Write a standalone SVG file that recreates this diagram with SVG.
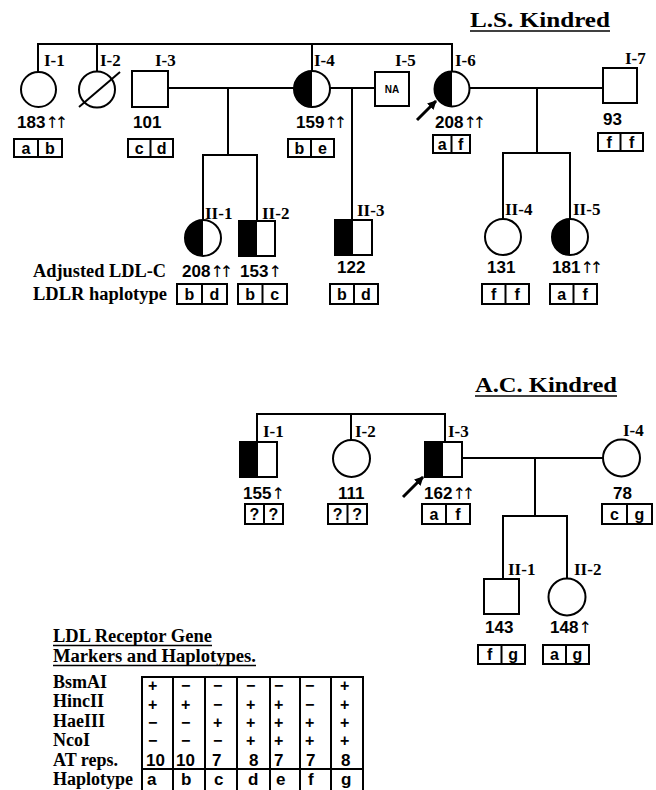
<svg xmlns="http://www.w3.org/2000/svg" width="656" height="790" viewBox="0 0 656 790">
<defs>
<style>
.ln{stroke:#000;stroke-width:2;fill:none}
.sh{stroke:#000;stroke-width:2;fill:#fff}
.bx{stroke:#000;stroke-width:2;fill:#fff}
.blk{fill:#000;stroke:none}
.lab{font-family:"Liberation Serif","Times New Roman",serif;font-weight:bold;font-size:17px;fill:#000}
.ttl{font-family:"Liberation Serif","Times New Roman",serif;font-weight:bold;font-size:20px;fill:#000}
.row{font-family:"Liberation Serif","Times New Roman",serif;font-weight:bold;font-size:18px;fill:#000}
.num{font-family:"Liberation Sans",Arial,sans-serif;font-weight:bold;font-size:17px;fill:#000}
.up{font-family:"DejaVu Sans",sans-serif;font-weight:normal;font-size:16px;letter-spacing:-4px;fill:#000}
.let{font-family:"Liberation Sans",Arial,sans-serif;font-weight:bold;font-size:16px;fill:#000;text-anchor:middle}
.cell{font-family:"Liberation Sans",Arial,sans-serif;font-weight:bold;font-size:16px;fill:#000}
.cn{font-family:"Liberation Sans",Arial,sans-serif;font-weight:bold;font-size:17px;fill:#000}
.na{font-family:"Liberation Sans",Arial,sans-serif;font-weight:bold;font-size:10px;fill:#000;text-anchor:middle}
.pb{stroke:#000;stroke-width:3;fill:none}
.ul{stroke:#000;stroke-width:1.5}
</style>
<marker id="ah" viewBox="0 0 10 10" refX="9" refY="5" markerWidth="9" markerHeight="9" markerUnits="userSpaceOnUse" orient="auto">
<path d="M0,0 L10,5 L0,10 z" fill="#000"/>
</marker>
</defs>
<rect width="656" height="790" fill="#fff"/>

<!-- Titles -->
<g id="ls-title">
<text class="ttl" x="470" y="27" textLength="140" lengthAdjust="spacingAndGlyphs">L.S. Kindred</text>
<line class="ul" x1="470" y1="31" x2="610" y2="31"/>
</g>
<g id="ac-title">
<text class="ttl" x="475" y="392" textLength="142" lengthAdjust="spacingAndGlyphs">A.C. Kindred</text>
<line class="ul" x1="475" y1="396" x2="617" y2="396"/>
</g>

<!-- Connectors -->
<g id="connectors">
<!-- L.S. -->
<polyline class="ln" points="38,72 38,44 452,44 452,72"/>
<line class="ln" x1="97" y1="44" x2="97" y2="72"/>
<line class="ln" x1="312" y1="44" x2="312" y2="71"/>
<line class="ln" x1="168" y1="88" x2="294" y2="88"/>
<line class="ln" x1="228" y1="88" x2="228" y2="155"/>
<polyline class="ln" points="203,220 203,155 257,155 257,221"/>
<line class="ln" x1="330" y1="88" x2="375" y2="88"/>
<line class="ln" x1="352" y1="88" x2="352" y2="220"/>
<line class="ln" x1="470" y1="88" x2="603" y2="88"/>
<line class="ln" x1="537" y1="88" x2="537" y2="153"/>
<polyline class="ln" points="503,219 503,153 570,153 570,219"/>
<!-- A.C. -->
<polyline class="ln" points="257,442 257,414 445,414 445,442"/>
<line class="ln" x1="351" y1="414" x2="351" y2="440"/>
<line class="ln" x1="462" y1="458" x2="603" y2="458"/>
<line class="ln" x1="535" y1="458" x2="535" y2="516"/>
<polyline class="ln" points="503,579 503,516 567,516 567,579"/>
<!-- proband arrows -->
<line class="pb" x1="417" y1="120" x2="436" y2="101" marker-end="url(#ah)"/>
<line class="pb" x1="403" y1="497" x2="423" y2="477" marker-end="url(#ah)"/>
</g>

<!-- L.S. generation I -->
<g id="ls-I-1">
<circle class="sh" cx="38.5" cy="89.5" r="17.5"/>
<text class="lab" x="44" y="66">I-1</text>
<text class="num" x="17" y="128">183<tspan class="up">↑↑</tspan></text>
<rect class="bx" x="14" y="139" width="48" height="18"/><line class="ln" x1="38" y1="139" x2="38" y2="157"/>
<text class="let" x="26" y="154">a</text><text class="let" x="50" y="154">b</text>
</g>
<g id="ls-I-2">
<circle class="sh" cx="97" cy="89.5" r="18"/>
<line class="ln" x1="79" y1="107" x2="120" y2="72"/>
<text class="lab" x="100" y="66">I-2</text>
</g>
<g id="ls-I-3">
<rect class="sh" x="132" y="71" width="36" height="36"/>
<text class="lab" x="155" y="66">I-3</text>
<text class="num" x="133" y="128">101</text>
<rect class="bx" x="128" y="139" width="45" height="18"/><line class="ln" x1="150.5" y1="139" x2="150.5" y2="157"/>
<text class="let" x="139.25" y="154">c</text><text class="let" x="161.75" y="154">d</text>
</g>
<g id="ls-I-4">
<circle class="sh" cx="312" cy="89" r="18"/>
<path class="blk" d="M312,71 A18,18 0 0 0 312,107 Z"/>
<text class="lab" x="314" y="66">I-4</text>
<text class="num" x="296" y="128">159<tspan class="up">↑↑</tspan></text>
<rect class="bx" x="288" y="139" width="46" height="18"/><line class="ln" x1="311" y1="139" x2="311" y2="157"/>
<text class="let" x="299.5" y="154">b</text><text class="let" x="322.5" y="154">e</text>
</g>
<g id="ls-I-5">
<rect class="sh" x="375" y="72" width="34" height="34"/>
<text class="na" x="392" y="93">NA</text>
<text class="lab" x="395" y="66">I-5</text>
</g>
<g id="ls-I-6">
<circle class="sh" cx="452" cy="89" r="17.5"/>
<path class="blk" d="M452,71.5 A17.5,17.5 0 0 0 452,106.5 Z"/>
<text class="lab" x="455" y="66">I-6</text>
<text class="num" x="435" y="128">208<tspan class="up">↑↑</tspan></text>
<rect class="bx" x="433" y="135" width="37" height="18"/><line class="ln" x1="451.5" y1="135" x2="451.5" y2="153"/>
<text class="let" x="442.25" y="150">a</text><text class="let" x="460.75" y="150">f</text>
</g>
<g id="ls-I-7">
<rect class="sh" x="603" y="68" width="34" height="35"/>
<text class="lab" x="625" y="64">I-7</text>
<text class="num" x="603" y="125">93</text>
<rect class="bx" x="598" y="133" width="45" height="18"/><line class="ln" x1="620.5" y1="133" x2="620.5" y2="151"/>
<text class="let" x="609.25" y="148">f</text><text class="let" x="631.75" y="148">f</text>
</g>

<!-- L.S. generation II -->
<g id="ls-legend">
<text class="row" x="33" y="277" textLength="133" lengthAdjust="spacingAndGlyphs">Adjusted LDL-C</text>
<text class="row" x="33" y="300" textLength="134" lengthAdjust="spacingAndGlyphs">LDLR haplotype</text>
</g>
<g id="ls-II-1">
<circle class="sh" cx="203" cy="238" r="18"/>
<path class="blk" d="M203,220 A18,18 0 0 0 203,256 Z"/>
<text class="lab" x="205" y="219">II-1</text>
<text class="num" x="182" y="277">208<tspan class="up">↑↑</tspan></text>
<rect class="bx" x="177" y="284" width="50" height="20"/><line class="ln" x1="202" y1="284" x2="202" y2="304"/>
<text class="let" x="189.5" y="300">b</text><text class="let" x="214.5" y="300">d</text>
</g>
<g id="ls-II-2">
<rect class="sh" x="239" y="221" width="36" height="35"/>
<rect class="blk" x="239" y="221" width="18" height="35"/>
<text class="lab" x="262" y="219">II-2</text>
<text class="num" x="240" y="277">153<tspan class="up">↑</tspan></text>
<rect class="bx" x="238" y="284" width="49" height="20"/><line class="ln" x1="262.5" y1="284" x2="262.5" y2="304"/>
<text class="let" x="250.25" y="300">b</text><text class="let" x="274.75" y="300">c</text>
</g>
<g id="ls-II-3">
<rect class="sh" x="335" y="220" width="37" height="35"/>
<rect class="blk" x="335" y="220" width="18" height="35"/>
<text class="lab" x="357" y="216">II-3</text>
<text class="num" x="337" y="273">122</text>
<rect class="bx" x="330" y="284" width="48" height="20"/><line class="ln" x1="354" y1="284" x2="354" y2="304"/>
<text class="let" x="342" y="300">b</text><text class="let" x="366" y="300">d</text>
</g>
<g id="ls-II-4">
<circle class="sh" cx="503" cy="237" r="18"/>
<text class="lab" x="505" y="215">II-4</text>
<text class="num" x="487" y="273">131</text>
<rect class="bx" x="482" y="284" width="47" height="20"/><line class="ln" x1="505.5" y1="284" x2="505.5" y2="304"/>
<text class="let" x="493.75" y="300">f</text><text class="let" x="517.25" y="300">f</text>
</g>
<g id="ls-II-5">
<circle class="sh" cx="570" cy="237" r="18"/>
<path class="blk" d="M570,219 A18,18 0 0 0 570,255 Z"/>
<text class="lab" x="573" y="215">II-5</text>
<text class="num" x="552" y="273">181<tspan class="up">↑↑</tspan></text>
<rect class="bx" x="550" y="284" width="47" height="20"/><line class="ln" x1="573.5" y1="284" x2="573.5" y2="304"/>
<text class="let" x="561.75" y="300">a</text><text class="let" x="585.25" y="300">f</text>
</g>

<!-- A.C. generation I -->
<g id="ac-I-1">
<rect class="sh" x="240" y="442" width="37" height="35"/>
<rect class="blk" x="240" y="442" width="18" height="35"/>
<text class="lab" x="263" y="437">I-1</text>
<text class="num" x="243" y="499">155<tspan class="up">↑</tspan></text>
<rect class="bx" x="245" y="504" width="38" height="20"/><line class="ln" x1="264" y1="504" x2="264" y2="524"/>
<text class="let" x="254.5" y="520">?</text><text class="let" x="273.5" y="520">?</text>
</g>
<g id="ac-I-2">
<circle class="sh" cx="351.5" cy="458.5" r="18.5"/>
<text class="lab" x="355" y="437">I-2</text>
<text class="num" x="338" y="499">111</text>
<rect class="bx" x="328" y="504" width="39" height="20"/><line class="ln" x1="347.5" y1="504" x2="347.5" y2="524"/>
<text class="let" x="337.75" y="520">?</text><text class="let" x="357.25" y="520">?</text>
</g>
<g id="ac-I-3">
<rect class="sh" x="425" y="442" width="37" height="35"/>
<rect class="blk" x="425" y="442" width="18" height="35"/>
<text class="lab" x="448" y="437">I-3</text>
<text class="num" x="424" y="499">162<tspan class="up">↑↑</tspan></text>
<rect class="bx" x="422" y="504" width="48" height="20"/><line class="ln" x1="446" y1="504" x2="446" y2="524"/>
<text class="let" x="434" y="520">a</text><text class="let" x="458" y="520">f</text>
</g>
<g id="ac-I-4">
<circle class="sh" cx="621.5" cy="458" r="18.5"/>
<text class="lab" x="623" y="436">I-4</text>
<text class="num" x="613" y="499">78</text>
<rect class="bx" x="602" y="504" width="50" height="20"/><line class="ln" x1="627" y1="504" x2="627" y2="524"/>
<text class="let" x="614.5" y="520">c</text><text class="let" x="639.5" y="520">g</text>
</g>

<!-- A.C. generation II -->
<g id="ac-II-1">
<rect class="sh" x="484" y="579" width="35" height="35"/>
<text class="lab" x="508" y="575">II-1</text>
<text class="num" x="485" y="633">143</text>
<rect class="bx" x="478" y="645" width="47" height="19"/><line class="ln" x1="501.5" y1="645" x2="501.5" y2="664"/>
<text class="let" x="489.75" y="660">f</text><text class="let" x="513.25" y="660">g</text>
</g>
<g id="ac-II-2">
<circle class="sh" cx="567" cy="597" r="18.5"/>
<text class="lab" x="574" y="575">II-2</text>
<text class="num" x="550" y="633">148<tspan class="up">↑</tspan></text>
<rect class="bx" x="543" y="645" width="46" height="19"/><line class="ln" x1="566" y1="645" x2="566" y2="664"/>
<text class="let" x="554.5" y="660">a</text><text class="let" x="577.5" y="660">g</text>
</g>

<!-- Marker table -->
<g id="marker-table">
<text class="row" x="53" y="642" textLength="159" lengthAdjust="spacingAndGlyphs">LDL Receptor Gene</text>
<line class="ul" x1="53" y1="645.5" x2="212" y2="645.5"/>
<text class="row" x="53" y="662" textLength="203" lengthAdjust="spacingAndGlyphs">Markers and Haplotypes.</text>
<line class="ul" x1="53" y1="665.5" x2="256" y2="665.5"/>
<text class="row" x="53" y="688">BsmAI</text>
<text class="row" x="53" y="707">HincII</text>
<text class="row" x="53" y="727">HaeIII</text>
<text class="row" x="53" y="746">NcoI</text>
<text class="row" x="53" y="766">AT reps.</text>
<text class="row" x="53" y="785">Haplotype</text>
<line class="ln" x1="141" y1="677" x2="364" y2="677"/>
<line class="ln" x1="142" y1="769" x2="363" y2="769"/>
<line class="ln" x1="142" y1="677" x2="142" y2="790"/>
<line class="ln" x1="173" y1="677" x2="173" y2="790"/>
<line class="ln" x1="205" y1="677" x2="205" y2="790"/>
<line class="ln" x1="237" y1="677" x2="237" y2="790"/>
<line class="ln" x1="270" y1="677" x2="270" y2="790"/>
<line class="ln" x1="300" y1="677" x2="300" y2="790"/>
<line class="ln" x1="331" y1="677" x2="331" y2="790"/>
<line class="ln" x1="363" y1="677" x2="363" y2="790"/>
<!-- column a -->
<text class="cell" x="148" y="691">+</text><text class="cell" x="148" y="710">+</text><text class="cell" x="148" y="728">−</text><text class="cell" x="148" y="746">−</text>
<text class="cn" x="146" y="766">10</text><text class="cn" x="147" y="785">a</text>
<!-- column b -->
<text class="cell" x="181" y="691">−</text><text class="cell" x="181" y="710">+</text><text class="cell" x="181" y="728">−</text><text class="cell" x="181" y="746">−</text>
<text class="cn" x="176" y="766">10</text><text class="cn" x="181" y="785">b</text>
<!-- column c -->
<text class="cell" x="213" y="691">−</text><text class="cell" x="213" y="710">−</text><text class="cell" x="213" y="728">+</text><text class="cell" x="213" y="746">−</text>
<text class="cn" x="212" y="766">7</text><text class="cn" x="214" y="785">c</text>
<!-- column d -->
<text class="cell" x="246" y="691">−</text><text class="cell" x="246" y="710">+</text><text class="cell" x="246" y="728">+</text><text class="cell" x="246" y="746">+</text>
<text class="cn" x="249" y="766">8</text><text class="cn" x="248" y="785">d</text>
<!-- column e -->
<text class="cell" x="274" y="691">−</text><text class="cell" x="274" y="710">+</text><text class="cell" x="274" y="728">+</text><text class="cell" x="274" y="746">+</text>
<text class="cn" x="274" y="766">7</text><text class="cn" x="276" y="785">e</text>
<!-- column f -->
<text class="cell" x="305" y="691">−</text><text class="cell" x="305" y="710">−</text><text class="cell" x="305" y="728">+</text><text class="cell" x="305" y="746">+</text>
<text class="cn" x="306" y="766">7</text><text class="cn" x="308" y="785">f</text>
<!-- column g -->
<text class="cell" x="340" y="691">+</text><text class="cell" x="340" y="710">+</text><text class="cell" x="340" y="728">+</text><text class="cell" x="340" y="746">+</text>
<text class="cn" x="341" y="766">8</text><text class="cn" x="341" y="785">g</text>
</g>
</svg>
